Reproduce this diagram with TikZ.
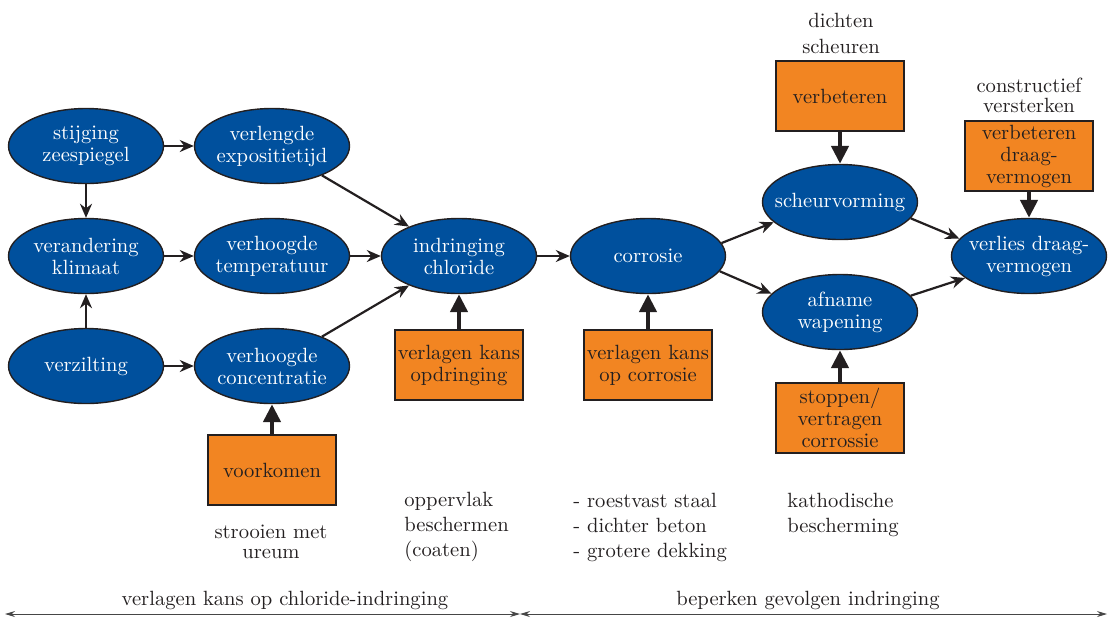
\documentclass[tikz,border=0pt]{standalone}
\usetikzlibrary{shapes.geometric,arrows.meta}
\definecolor{roblue}{RGB}{0,80,157}
\definecolor{roorange}{RGB}{242,133,34}
\definecolor{rodark}{RGB}{35,31,32}
\definecolor{rogrey}{RGB}{70,70,70}

\begin{document}
\begin{tikzpicture}[x=0.5pt,y=-0.5pt, %1 unit = 1 px, y runs downwards
  cause/.style={ellipse,draw=rodark,line width=0.7pt,fill=roblue,text=white,minimum width=77.5pt,minimum height=37.5pt,inner xsep=-10pt,inner ysep=0pt,align=center,font=\fontsize{10.3}{11}\selectfont},
  measure/.style={rectangle,draw=rodark,line width=0.7pt,fill=roorange,text=rodark,minimum width=64pt,minimum height=35pt,inner sep=0pt,align=center,font=\fontsize{10.3}{11}\selectfont},
  note/.style={text=rodark,inner sep=0pt,font=\fontsize{10.3}{12.5}\selectfont},
  link/.style={draw=rodark,line width=1.1pt,-{Stealth[length=7pt,width=6pt]}},
  push/.style={draw=rodark,line width=2.2pt,-{Triangle[length=9pt,width=8.5pt]}},
  span/.style={draw=rogrey,line width=0.5pt,{Stealth[length=5pt,width=3pt]}-{Stealth[length=5pt,width=3pt]}}]
\useasboundingbox (0,0) rectangle (1112,618); %Fixed page size

%Causes (blue ellipses)
\node[cause] (stijging) at (86,146) {stijging\\zeespiegel};
\node[cause] (verlengd) at (272,146) {verlengde\\expositietijd};
\node[cause] (klimaat) at (86,256) {verandering\\klimaat};
\node[cause] (temp) at (272,256) {verhoogde\\temperatuur};
\node[cause] (verzilting) at (86,366) {verzilting};
\node[cause] (conc) at (272,366) {verhoogde\\concentratie};
\node[cause] (indringing) at (459,256) {indringing\\chloride};
\node[cause] (corrosie) at (648,256) {corrosie};
\node[cause] (scheur) at (840,202) {scheurvorming};
\node[cause] (afname) at (840,312) {afname\\wapening};
\node[cause] (verlies) at (1029,256) {verlies draag-\\vermogen};

%Measures (orange boxes)
\node[measure] (voorkomen) at (272,470) {voorkomen};
\node[measure] (opdringing) at (459,365) {verlagen kans\\opdringing};
\node[measure] (opcorrosie) at (648,365) {verlagen kans\\op corrosie};
\node[measure] (verbeteren) at (840,96) {verbeteren};
\node[measure] (stoppen) at (840,418) {stoppen/\\vertragen\\corrossie};
\node[measure] (draag) at (1029,156) {verbeteren\\draag-\\vermogen};

%Notes next to the measures
\node[note,align=center,font=\fontsize{10.3}{13}\selectfont] (dichten) at (841,33) {dichten\\scheuren};
\node[note,align=center,font=\fontsize{10.3}{10}\selectfont] (construct) at (1029,95) {constructief\\versterken};
\node[note,align=center,font=\fontsize{10.3}{10}\selectfont] (strooien) at (271,542) {strooien met\\ureum};
\node[note,align=left,anchor=west] (oppervlak) at (404,527) {oppervlak\\beschermen\\(coaten)};
\node[note,align=left,anchor=west] (staal) at (573,527) {- roestvast staal\\- dichter beton\\- grotere dekking};
\node[note,align=left,anchor=west] (kathodisch) at (787,514.5) {kathodische\\bescherming};

%Chain of causes
\draw[link] (stijging) -- (verlengd);
\draw[link] (stijging) -- (klimaat);
\draw[link] (verzilting) -- (klimaat);
\draw[link] (klimaat) -- (temp);
\draw[link] (verzilting) -- (conc);
\draw[link] (verlengd) -- (indringing);
\draw[link] (temp) -- (indringing);
\draw[link] (conc) -- (indringing);
\draw[link] (indringing) -- (corrosie);
\draw[link] (corrosie.10) -- (scheur.197);
\draw[link] (corrosie.-12) -- (afname.165);
\draw[link] (scheur.-13) -- (verlies.166);
\draw[link] (afname.13) -- (verlies.199);

%Measures acting on the chain
\draw[push] (voorkomen) -- (conc);
\draw[push] (opdringing) -- (indringing);
\draw[push] (opcorrosie) -- (corrosie);
\draw[push] (verbeteren) -- (scheur);
\draw[push] (stoppen) -- (afname);
\draw[push] (draag) -- (verlies);

%Bottom scale
\coordinate (lft) at (5,614);
\coordinate (mid) at (520,614);
\coordinate (rgt) at (1107,614);
\draw[span] (lft) -- (mid);
\draw[span] (mid) -- (rgt);
\node[note] (kans) at (285,600) {verlagen kans op chloride-indringing};
\node[note] (gevolg) at (808,600) {beperken gevolgen indringing};
\end{tikzpicture}
\end{document}
